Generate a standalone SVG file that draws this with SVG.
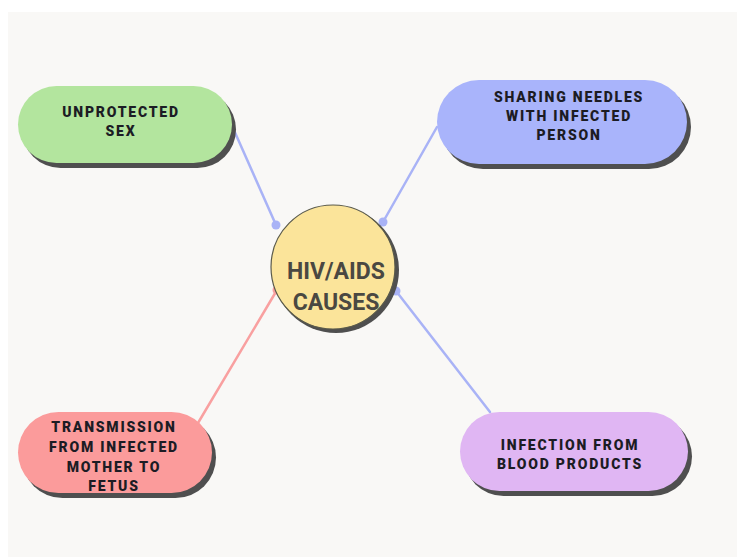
<svg xmlns="http://www.w3.org/2000/svg" width="737" height="557" viewBox="0 0 737 557">
  <defs>
    <style>
      .label { font-family: Roboto, "Liberation Sans", sans-serif; font-weight: 900; font-size: 14px; letter-spacing: 1.8px; fill: #1c1c24; text-anchor: middle; }
      .center { font-family: Roboto, "Liberation Sans", sans-serif; font-weight: 700; font-size: 23px; fill: #4a4842; text-anchor: middle; }
      .shadow { fill: #4f4f4f; }
      .conn { stroke-width: 2.5; fill: none; stroke-linecap: round; }
      .blue { stroke: #a9b3f6; }
      .pink { stroke: #f9a0a0; }
    </style>
  </defs>
  <rect x="0" y="0" width="737" height="557" fill="#ffffff"/>
  <rect x="8" y="12" width="729" height="545" fill="#f9f8f6"/>

  <g id="connectors">
    <line class="conn blue" x1="233" y1="128" x2="276" y2="225"/>
    <circle cx="276" cy="225" r="4.5" fill="#a9b3f6"/>
    <line class="conn blue" x1="437" y1="127" x2="383" y2="222"/>
    <circle cx="383" cy="222" r="4.5" fill="#a9b3f6"/>
    <line class="conn blue" x1="396" y1="291" x2="490" y2="412"/>
    <circle cx="396" cy="291" r="4.5" fill="#a9b3f6"/>
    <line class="conn pink" x1="198" y1="423" x2="277" y2="290"/>
    <circle cx="277" cy="290" r="4.5" fill="#f9a0a0"/>
  </g>

  <g id="center">
    <circle cx="336" cy="270" r="63" class="shadow"/>
    <circle cx="333" cy="267" r="62" fill="#fbe49a" stroke="#5a5a4a" stroke-width="1.2"/>
    <text class="center" x="336" y="279">HIV/AIDS</text>
    <text class="center" x="336" y="310">CAUSES</text>
  </g>

  <g id="node-unprotected">
    <rect x="22" y="91" width="214" height="77" rx="38.5" class="shadow"/>
    <rect x="18" y="86" width="214" height="77" rx="38.5" fill="#b3e59e"/>
    <text class="label" x="121" y="117">UNPROTECTED</text>
    <text class="label" x="121" y="136">SEX</text>
  </g>

  <g id="node-needles">
    <rect x="441" y="85" width="250" height="84" rx="42" class="shadow"/>
    <rect x="437" y="80" width="250" height="84" rx="42" fill="#a9b4fb"/>
    <text class="label" x="569" y="102">SHARING NEEDLES</text>
    <text class="label" x="569" y="121">WITH INFECTED</text>
    <text class="label" x="569" y="140">PERSON</text>
  </g>

  <g id="node-transmission">
    <rect x="22" y="417" width="194" height="81" rx="40.5" class="shadow"/>
    <rect x="18" y="412" width="194" height="81" rx="40.5" fill="#fb9b9b"/>
    <text class="label" x="114" y="432">TRANSMISSION</text>
    <text class="label" x="114" y="452">FROM INFECTED</text>
    <text class="label" x="114" y="472">MOTHER TO</text>
    <text class="label" x="114" y="491">FETUS</text>
  </g>

  <g id="node-blood">
    <rect x="464" y="417" width="228" height="79" rx="39.5" class="shadow"/>
    <rect x="460" y="412" width="228" height="79" rx="39.5" fill="#e0b6f3"/>
    <text class="label" x="570" y="450">INFECTION FROM</text>
    <text class="label" x="570" y="469">BLOOD PRODUCTS</text>
  </g>
</svg>
